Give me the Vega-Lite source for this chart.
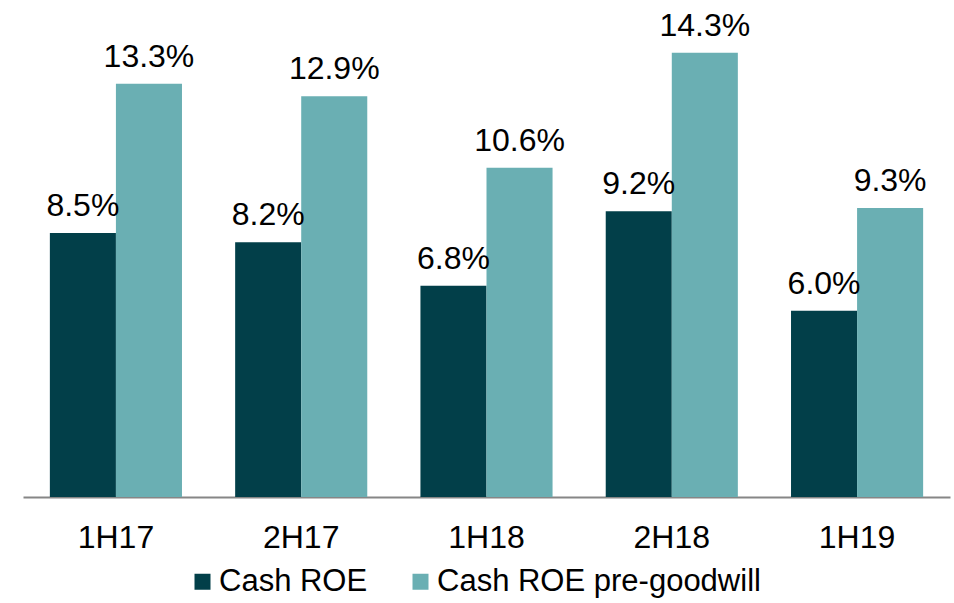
{
  "$schema": "https://vega.github.io/schema/vega-lite/v6.json",
  "width": 927,
  "height": 497,
  "autosize": "none",
  "padding": {"left": 23, "top": 0, "right": 4, "bottom": 106},
  "background": "#ffffff",
  "config": {
    "view": {"stroke": null},
    "font": "Liberation Sans",
    "text": {"font": "Liberation Sans"}
  },
  "data": {
    "values": [
      {"period": "1H17", "series": "Cash ROE", "roe": 0.085},
      {"period": "1H17", "series": "Cash ROE pre-goodwill", "roe": 0.133},
      {"period": "2H17", "series": "Cash ROE", "roe": 0.082},
      {"period": "2H17", "series": "Cash ROE pre-goodwill", "roe": 0.129},
      {"period": "1H18", "series": "Cash ROE", "roe": 0.068},
      {"period": "1H18", "series": "Cash ROE pre-goodwill", "roe": 0.106},
      {"period": "2H18", "series": "Cash ROE", "roe": 0.092},
      {"period": "2H18", "series": "Cash ROE pre-goodwill", "roe": 0.143},
      {"period": "1H19", "series": "Cash ROE", "roe": 0.060},
      {"period": "1H19", "series": "Cash ROE pre-goodwill", "roe": 0.093}
    ]
  },
  "encoding": {
    "x": {
      "field": "period",
      "type": "nominal",
      "sort": null,
      "scale": {"paddingInner": 0.287, "paddingOuter": 0.145},
      "axis": {
        "title": null,
        "labelAngle": 0,
        "ticks": false,
        "tickSize": 0,
        "domainColor": "#868686",
        "domainWidth": 2,
        "labelFont": "Liberation Sans",
        "labelFontSize": 32,
        "labelColor": "#000000",
        "labelBaseline": "alphabetic",
        "labelPadding": 50,
        "grid": false
      }
    },
    "xOffset": {"field": "series", "type": "nominal", "scale": {"paddingInner": 0, "paddingOuter": 0}},
    "y": {
      "field": "roe",
      "type": "quantitative",
      "scale": {"domain": [0, 0.16], "nice": false},
      "axis": null
    }
  },
  "layer": [
    {
      "mark": {"type": "bar"},
      "encoding": {
        "color": {
          "field": "series",
          "type": "nominal",
          "scale": {"domain": ["Cash ROE", "Cash ROE pre-goodwill"], "range": ["#023F49", "#6AAFB3"]},
          "legend": {
            "title": null,
            "orient": "none",
            "direction": "horizontal",
            "legendX": 164,
            "legendY": 566,
            "padding": 0,
            "symbolType": "square",
            "symbolSize": 256,
            "symbolStrokeWidth": 0,
            "labelFont": "Liberation Sans",
            "labelFontSize": 31,
            "labelColor": "#000000",
            "labelOffset": 1,
            "labelLimit": 0,
            "columnPadding": 37
          }
        }
      }
    },
    {
      "mark": {"type": "text", "baseline": "alphabetic", "dy": -17, "fontSize": 32, "color": "#000000", "font": "Liberation Sans"},
      "encoding": {
        "text": {"field": "roe", "type": "quantitative", "format": ".1%"}
      }
    }
  ]
}
